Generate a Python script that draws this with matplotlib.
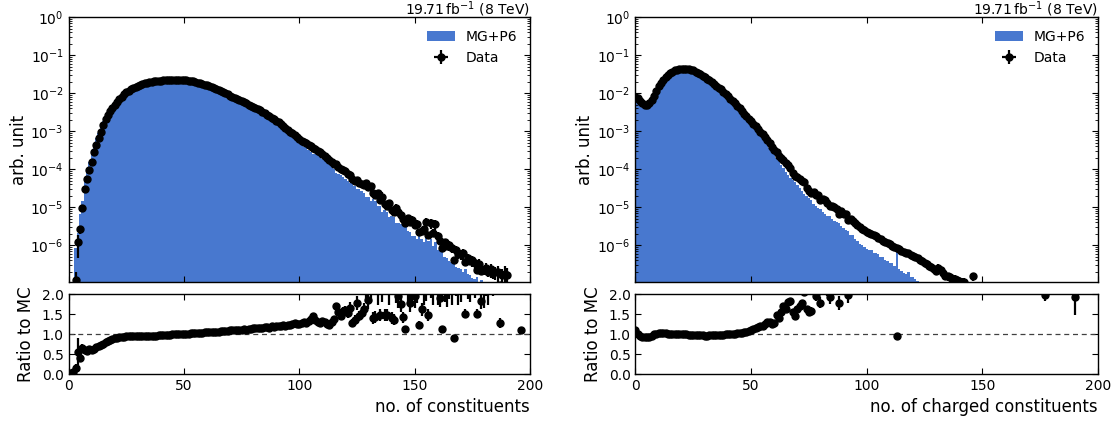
import numpy as np
import matplotlib
matplotlib.use("Agg")
import matplotlib.pyplot as plt
from matplotlib.patches import Patch
from matplotlib.ticker import LogLocator, FormatStrFormatter, NullFormatter

nan = np.nan

# ---------------- left panel: all constituents (n = 1 .. 196) ----------------
n_left = np.arange(1, 197)
# log10 of normalised data counts
data_left_log = [
    -9.0, -8.4, -6.93, -5.93, -5.58, -5.02, -4.53, -4.26, -4.01, -3.81,
    -3.54, -3.36, -3.19, -3.02, -2.84, -2.69, -2.57, -2.47, -2.38, -2.30,
    -2.22, -2.15, -2.09, -2.03, -1.98, -1.94, -1.90, -1.86, -1.83, -1.80,
    -1.78, -1.76, -1.74, -1.72, -1.71, -1.70, -1.69, -1.68, -1.67, -1.665,
    -1.66, -1.655, -1.65, -1.65, -1.645, -1.645, -1.645, -1.65, -1.65, -1.655,
    -1.66, -1.67, -1.68, -1.69, -1.70, -1.72, -1.73, -1.75, -1.77, -1.79,
    -1.81, -1.84, -1.86, -1.89, -1.91, -1.94, -1.97, -2.00, -2.03, -2.06,
    -2.09, -2.12, -2.15, -2.18, -2.21, -2.24, -2.27, -2.30, -2.33, -2.36,
    -2.39, -2.42, -2.45, -2.49, -2.53, -2.57, -2.61, -2.65, -2.69, -2.73,
    -2.77, -2.82, -2.87, -2.92, -2.97, -3.01, -3.06, -3.11, -3.16, -3.21,
    -3.25, -3.29, -3.32, -3.36, -3.40, -3.44, -3.48, -3.52, -3.56, -3.60,
    -3.65, -3.70, -3.75, -3.80, -3.86, -3.87, -3.94, -4.00, -4.02, -4.06,
    -4.12, -4.15, -4.26, -4.30, -4.28, -4.37, -4.39, -4.41, -4.37, -4.47,
    -4.45, -4.63, -4.69, -4.64, -4.80, -4.72, -4.91, -4.96, -4.90, -5.08,
    -5.13, -5.03, -5.13, -5.21, -5.31, -5.42, -5.29, -5.40, -5.35, -5.47,
    -5.45, -5.66, -5.62, -5.57, -5.40, -5.73, -5.42, -5.67, -5.45, -5.76,
    -5.88, -6.08, -5.93, -6.02, -6.00, -6.08, -6.38, -6.13, -6.23, -6.24,
    -6.22, -6.44, -6.35, -6.41, -6.40, -6.47, -6.65, -6.49, -6.67, -6.65,
    -6.61, -6.70, -6.64, -6.71, -6.72, -6.71, -7.04, -6.78, -6.75, -6.79,
    nan, nan, nan, nan, nan, -7.3,
]
# data / MC
ratio_left = [
    0.02, 0.05, 0.14, 0.56, 0.39, 0.64, 0.60, 0.58, 0.62, 0.60,
    0.63, 0.67, 0.70, 0.72, 0.76, 0.79, 0.82, 0.85, 0.88, 0.90,
    0.91, 0.92, 0.93, 0.93, 0.94, 0.94, 0.94, 0.94, 0.95, 0.94,
    0.95, 0.95, 0.95, 0.95, 0.96, 0.95, 0.96, 0.96, 0.97, 0.97,
    0.97, 0.98, 0.98, 0.98, 0.99, 0.99, 0.99, 1.00, 1.00, 1.01,
    1.01, 1.01, 1.02, 1.02, 1.02, 1.03, 1.03, 1.03, 1.04, 1.04,
    1.04, 1.05, 1.05, 1.06, 1.06, 1.07, 1.07, 1.08, 1.08, 1.09,
    1.09, 1.10, 1.10, 1.10, 1.11, 1.12, 1.11, 1.13, 1.12, 1.14,
    1.15, 1.14, 1.16, 1.15, 1.17, 1.18, 1.16, 1.19, 1.18, 1.20,
    1.21, 1.19, 1.22, 1.20, 1.23, 1.22, 1.25, 1.27, 1.24, 1.26,
    1.28, 1.30, 1.27, 1.33, 1.38, 1.44, 1.35, 1.30, 1.28, 1.33,
    1.31, 1.25, 1.23, 1.30, 1.38, 1.69, 1.55, 1.45, 1.58, 1.61,
    1.52, 1.66, 1.27, 1.35, 1.77, 1.45, 1.52, 1.62, 2.30, 1.86,
    2.40, 1.40, 1.43, 2.20, 1.48, 2.50, 1.47, 1.48, 2.30, 1.40,
    1.36, 2.40, 1.95, 1.75, 1.42, 1.12, 2.20, 1.77, 2.50, 1.95,
    2.40, 1.23, 1.62, 2.20, 2.60, 1.48, 2.70, 2.20, 2.90, 2.30,
    1.90, 1.12, 2.40, 2.10, 2.60, 2.30, 0.90, 2.80, 2.30, 2.50,
    3.00, 1.51, 2.60, 2.40, 3.00, 2.70, 1.51, 3.20, 1.82, 2.20,
    3.00, 2.40, 3.50, 3.00, 3.30, 4.00, 1.27, 4.00, 5.00, 5.00,
    nan, nan, nan, nan, nan, 1.11,
]
# relative statistical uncertainty of the data
relerr_left = [
    1.0, 0.9, 0.7, 0.6, 0.25, 0.18, 0.10, 0.07, 0.05, 0.04,
    0.03, 0.025, 0.02, 0.02, 0.015, 0.012, 0.010, 0.010, 0.008, 0.008,
    0.007, 0.007, 0.006, 0.006, 0.006, 0.005, 0.005, 0.005, 0.005, 0.005,
    0.005, 0.005, 0.005, 0.005, 0.005, 0.005, 0.005, 0.005, 0.005, 0.005,
    0.005, 0.005, 0.005, 0.005, 0.005, 0.005, 0.005, 0.005, 0.005, 0.005,
    0.005, 0.005, 0.005, 0.005, 0.005, 0.005, 0.005, 0.005, 0.005, 0.005,
    0.005, 0.005, 0.005, 0.006, 0.006, 0.006, 0.006, 0.007, 0.007, 0.007,
    0.007, 0.008, 0.008, 0.008, 0.009, 0.009, 0.009, 0.010, 0.010, 0.010,
    0.011, 0.011, 0.012, 0.012, 0.013, 0.013, 0.014, 0.014, 0.015, 0.015,
    0.016, 0.016, 0.017, 0.018, 0.018, 0.019, 0.020, 0.021, 0.022, 0.023,
    0.024, 0.025, 0.026, 0.027, 0.028, 0.030, 0.031, 0.032, 0.034, 0.035,
    0.037, 0.039, 0.041, 0.043, 0.045, 0.048, 0.050, 0.053, 0.056, 0.060,
    0.08, 0.09, 0.08, 0.09, 0.10, 0.09, 0.10, 0.10, 0.22, 0.12,
    0.25, 0.10, 0.10, 0.22, 0.10, 0.28, 0.10, 0.10, 0.25, 0.10,
    0.10, 0.26, 0.15, 0.12, 0.10, 0.08, 0.22, 0.12, 0.28, 0.15,
    0.26, 0.08, 0.10, 0.22, 0.30, 0.10, 0.30, 0.22, 0.30, 0.25,
    0.12, 0.08, 0.25, 0.20, 0.28, 0.25, 0.08, 0.30, 0.25, 0.28,
    0.32, 0.08, 0.28, 0.25, 0.32, 0.30, 0.08, 0.35, 0.10, 0.25,
    0.35, 0.28, 0.40, 0.35, 0.38, 0.45, 0.10, 0.45, 0.55, 0.58,
    nan, nan, nan, nan, nan, 0.06,
]

# ---------------- right panel: charged constituents (n = 0 .. 190) ----------------
n_right = np.arange(0, 191)
data_right_log = [
    -2.10, -2.13, -2.20, -2.26, -2.30, -2.31, -2.27, -2.18, -2.06, -1.93,
    -1.82, -1.72, -1.64, -1.57, -1.51, -1.47, -1.43, -1.40, -1.38, -1.365,
    -1.355, -1.35, -1.355, -1.365, -1.38, -1.40, -1.43, -1.46, -1.50, -1.54,
    -1.58, -1.62, -1.66, -1.70, -1.75, -1.80, -1.85, -1.90, -1.96, -2.02,
    -2.08, -2.14, -2.20, -2.26, -2.33, -2.40, -2.47, -2.54, -2.61, -2.68,
    -2.73, -2.80, -2.87, -2.94, -3.01, -3.08, -3.16, -3.23, -3.32, -3.42,
    -3.50, -3.54, -3.64, -3.70, -3.75, -3.85, -3.90, -3.96, -4.09, -4.18,
    -4.21, -4.27, -4.32, -4.35, -4.49, -4.57, -4.62, -4.59, -4.67, -4.68,
    -4.81, -4.79, -4.82, -4.89, -4.96, -4.96, -4.99, -5.06, -5.17, -5.11,
    -5.18, -5.19, -5.33, -5.31, -5.36, -5.42, -5.47, -5.52, -5.57, -5.61,
    -5.65, -5.68, -5.71, -5.74, -5.77, -5.80, -5.84, -5.88, -5.92, -5.95,
    -5.98, -6.01, -6.04, -6.08, -6.11, -6.15, -6.18, -6.22, -6.20, -6.25,
    -6.28, -6.30, -6.33, -6.38, -6.43, -6.47, -6.50, -6.55, -6.58, -6.62,
    -6.68, -6.60, -6.65, -6.74, -6.80, -6.82, -6.85, -6.88, -6.90, -6.92,
    -6.94, -6.96, -6.97, nan, nan, nan, -6.82, nan, nan, nan,
    nan, nan, nan, nan, nan, nan, nan, nan, nan, nan,
    nan, nan, nan, nan, nan, nan, nan, nan, nan, nan,
    nan, nan, nan, nan, nan, nan, nan, -7.4, nan, nan,
    nan, nan, nan, nan, nan, nan, nan, nan, nan, nan,
    -7.3,
]
ratio_right = [
    1.10, 1.00, 0.96, 0.93, 0.92, 0.92, 0.93, 0.96, 0.99, 1.01,
    1.02, 1.03, 1.02, 1.02, 1.01, 1.01, 1.01, 1.00, 1.00, 1.00,
    0.99, 0.99, 0.99, 0.98, 0.98, 0.98, 0.98, 0.97, 0.97, 0.97,
    0.96, 0.96, 0.97, 0.97, 0.97, 0.97, 0.98, 0.98, 0.98, 0.99,
    0.99, 1.00, 1.01, 1.01, 1.02, 1.02, 1.03, 1.04, 1.06, 1.08,
    1.10, 1.13, 1.16, 1.18, 1.20, 1.19, 1.25, 1.31, 1.30, 1.26,
    1.27, 1.48, 1.40, 1.55, 1.70, 1.63, 1.80, 1.83, 1.54, 1.46,
    1.62, 1.70, 1.78, 2.05, 1.62, 1.54, 1.57, 2.10, 1.95, 2.20,
    1.78, 2.20, 2.30, 2.15, 1.93, 2.30, 2.40, 2.20, 1.78, 2.50,
    2.30, 2.60, 1.97, 2.60, 2.40, 2.70, 2.60, 2.80, 2.60, 2.70,
    2.75, 2.80, 2.70, 2.90, 2.80, 2.70, 2.90, 2.75, 3.00, 2.90,
    3.10, 2.90, 3.20, 0.94, 3.40, 3.30, 3.60, 3.50, 3.20, 3.80,
    3.70, 4.00, 4.20, 4.50, 5.00, 5.50, 6.00, 6.00, 6.50, 7.00,
    7.00, 6.00, 7.00, 8.00, 8.00, 8.00, 9.00, 9.00, 9.00, 9.00,
    10.0, 10.0, 10.0, nan, nan, nan, 8.00, nan, nan, nan,
    nan, nan, nan, nan, nan, nan, nan, nan, nan, nan,
    nan, nan, nan, nan, nan, nan, nan, nan, nan, nan,
    nan, nan, nan, nan, nan, nan, nan, 1.98, nan, nan,
    nan, nan, nan, nan, nan, nan, nan, nan, nan, nan,
    1.92,
]
relerr_right = [
    0.006, 0.006, 0.005, 0.005, 0.005, 0.005, 0.005, 0.004, 0.004, 0.004,
    0.003, 0.003, 0.003, 0.003, 0.003, 0.003, 0.003, 0.003, 0.003, 0.003,
    0.003, 0.003, 0.003, 0.003, 0.003, 0.003, 0.003, 0.003, 0.003, 0.003,
    0.003, 0.003, 0.003, 0.003, 0.003, 0.003, 0.003, 0.003, 0.003, 0.003,
    0.003, 0.003, 0.003, 0.003, 0.003, 0.003, 0.003, 0.003, 0.003, 0.003,
    0.004, 0.004, 0.005, 0.005, 0.006, 0.006, 0.007, 0.008, 0.009, 0.010,
    0.012, 0.014, 0.016, 0.018, 0.020, 0.022, 0.025, 0.028, 0.030, 0.033,
    0.036, 0.040, 0.044, 0.048, 0.052, 0.056, 0.060, 0.064, 0.068, 0.072,
    0.076, 0.080, 0.084, 0.088, 0.092, 0.096, 0.100, 0.100, 0.100, 0.100,
    0.10, 0.10, 0.10, 0.10, 0.10, 0.10, 0.10, 0.10, 0.10, 0.10,
    0.12, 0.12, 0.12, 0.12, 0.12, 0.12, 0.12, 0.12, 0.12, 0.12,
    0.12, 0.12, 0.12, 0.08, 0.15, 0.15, 0.16, 0.16, 0.17, 0.17,
    0.18, 0.18, 0.19, 0.19, 0.20, 0.20, 0.21, 0.21, 0.22, 0.22,
    0.23, 0.23, 0.24, 0.24, 0.25, 0.25, 0.26, 0.26, 0.27, 0.27,
    0.28, 0.28, 0.29, nan, nan, nan, 0.25, nan, nan, nan,
    nan, nan, nan, nan, nan, nan, nan, nan, nan, nan,
    nan, nan, nan, nan, nan, nan, nan, nan, nan, nan,
    nan, nan, nan, nan, nan, nan, nan, 0.08, nan, nan,
    nan, nan, nan, nan, nan, nan, nan, nan, nan, nan,
    0.23,
]

x_ticks = [0, 50, 100, 150, 200]
ratio_ticks = [0.0, 0.5, 1.0, 1.5, 2.0]
lumi_text = r"19.71$\,$fb$^{-1}$ (8 TeV)"
MC_COLOR = "#4878CF"

plt.rcParams.update({
    "font.family": ["DejaVu Sans"],
    "xtick.direction": "in", "ytick.direction": "in",
    "xtick.top": True, "ytick.right": True,
    "xtick.major.size": 4, "ytick.major.size": 4,
    "xtick.minor.size": 2, "ytick.minor.size": 2,
    "xtick.labelsize": 10, "ytick.labelsize": 10,
    "axes.linewidth": 1.0,
})

fig = plt.figure(figsize=(11.18, 4.21), dpi=100)


def panel(x0, width, n, data_log, ratio, relerr, xlabel):
    ax = fig.add_axes([x0, 0.3302, width, 0.6287])
    axr = fig.add_axes([x0, 0.1116, width, 0.19])
    data = 10.0 ** np.asarray(data_log, dtype=float)
    ratio = np.asarray(ratio, dtype=float)
    relerr = np.asarray(relerr, dtype=float)
    mc = np.nan_to_num(data / ratio, nan=0.0)
    edges = np.append(n - 0.5, n[-1] + 0.5)

    ax.set_yscale("log")
    ax.stairs(mc, edges, fill=True, color=MC_COLOR, linewidth=0)
    eb = ax.errorbar(n, data, yerr=data * relerr, xerr=0.5, fmt="o", color="k",
                     ms=5, elinewidth=1.6, capsize=0)
    ax.set_xlim(0, 200)
    ax.set_ylim(1.07e-7, 1.0)
    ax.set_xticks(x_ticks)
    ax.xaxis.set_major_formatter(NullFormatter())
    ax.tick_params(labelbottom=False, labeltop=False)
    ax.yaxis.set_major_locator(LogLocator(base=10, numticks=15))
    ax.yaxis.set_minor_locator(LogLocator(base=10, subs=np.arange(2, 10), numticks=15))
    ax.yaxis.set_minor_formatter(NullFormatter())
    ax.set_ylabel("arb. unit", fontsize=12, labelpad=2)
    ax.text(1.0, 1.012, lumi_text, transform=ax.transAxes, ha="right", va="baseline",
            fontsize=10)
    handles = [Patch(facecolor=MC_COLOR, edgecolor="none", label="MG+P6"), eb]
    ax.legend(handles, ["MG+P6", "Data"], loc="upper right", frameon=False, fontsize=10)

    axr.axhline(1.0, color="0.25", lw=0.9, ls=(0, (4, 3)))
    axr.errorbar(n, ratio, yerr=ratio * relerr, xerr=0.5, fmt="o", color="k",
                 ms=5, elinewidth=1.6, capsize=0)
    axr.set_xlim(0, 200)
    axr.set_ylim(0, 2.0)
    axr.set_xticks(x_ticks)
    axr.set_yticks(ratio_ticks)
    axr.yaxis.set_major_formatter(FormatStrFormatter("%.1f"))
    axr.set_ylabel("Ratio to MC", fontsize=12, labelpad=5)
    axr.set_xlabel(xlabel, fontsize=12, loc="right")
    return ax, axr


panel(0.0614, 0.4126, n_left, data_left_log, ratio_left, relerr_left,
      "no. of constituents")
panel(0.5684, 0.4137, n_right, data_right_log, ratio_right, relerr_right,
      "no. of charged constituents")

fig.savefig("out.png", dpi=100)
